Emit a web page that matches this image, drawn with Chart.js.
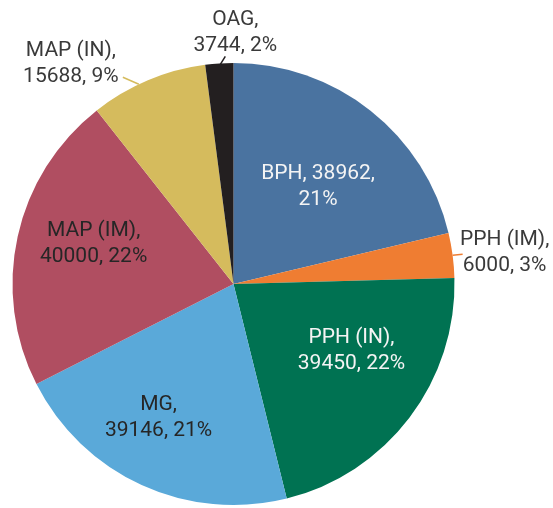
<!DOCTYPE html>
<html>
<head>
<meta charset="utf-8">
<script src="https://cdn.jsdelivr.net/npm/chart.js@4.4.0/dist/chart.umd.min.js"></script>
<style>
  body { margin: 0; background: #fff; }
  canvas { display: block; }
</style>
</head>
<body>
<canvas id="pieChart" width="553" height="508"></canvas>
<script>
// Dane wykresu
const categories = ["BPH", "PPH (IM)", "PPH (IN)", "MG", "MAP (IM)", "MAP (IN)", "OAG"];
const values = [38962, 6000, 39450, 39146, 40000, 15688, 3744];
const percents = [21, 3, 22, 21, 22, 9, 2];
const sliceColors = ["#4a73a0", "#ef7d32", "#007252", "#5aa9d9", "#b04e61", "#d5bb5d", "#231f20"];

// Ustawienia etykiet (pozycja wzgledem wycinka)
const labelSetup = [
  { inside: true, dx: 16, dy: -11, color: "#f4f4f4" },
  { inside: false, dx: 52, dy: -3, color: "#3a3a3a", lineFrom: [0, 0], lineTo: [10, -1] },
  { inside: true, dx: 30, dy: 0, color: "#f4f4f4" },
  { inside: true, dx: -29, dy: 33, color: "#262626" },
  { inside: true, dx: -32, dy: -16, color: "#262626" },
  { inside: false, dx: -77, dy: -17, color: "#3a3a3a", lineFrom: [-9, 4], lineTo: [-25, -3] },
  { inside: false, dx: 16, dy: -31, color: "#3a3a3a", lineFrom: [1, 1], lineTo: [6, -7] }
];

// Rysowanie etykiet danych
const pieLabels = {
  id: "pieLabels",
  afterDatasetsDraw(chart) {
    const ctx = chart.ctx;
    const meta = chart.getDatasetMeta(0);
    ctx.save();
    ctx.font = "21px Roboto";
    ctx.textAlign = "center";
    ctx.textBaseline = "middle";
    meta.data.forEach((arc, i) => {
      const cfg = labelSetup[i];
      const mid = (arc.startAngle + arc.endAngle) / 2;
      let x, y;
      if (cfg.inside) {
        const p = arc.tooltipPosition();
        x = p.x + cfg.dx;
        y = p.y + cfg.dy;
      } else {
        const ex = arc.x + Math.cos(mid) * arc.outerRadius;
        const ey = arc.y + Math.sin(mid) * arc.outerRadius;
        ctx.strokeStyle = sliceColors[i];
        ctx.lineWidth = 1.5;
        ctx.beginPath();
        ctx.moveTo(ex + cfg.lineFrom[0], ey + cfg.lineFrom[1]);
        ctx.lineTo(ex + cfg.lineTo[0], ey + cfg.lineTo[1]);
        ctx.stroke();
        x = ex + cfg.dx;
        y = ey + cfg.dy;
      }
      ctx.fillStyle = cfg.color;
      const line1 = categories[i] + ",";
      const line2 = values[i] + ", " + percents[i] + "%";
      if (i === 0) {
        ctx.fillText(categories[i] + ", " + values[i] + ",", x, y - 13);
        ctx.fillText(percents[i] + "%", x, y + 13);
      } else {
        ctx.fillText(line1, x, y - 13);
        ctx.fillText(line2, x, y + 13);
      }
    });
    ctx.restore();
  }
};

function initChart() {
  const ctx = document.getElementById("pieChart").getContext("2d");
  new Chart(ctx, {
    type: "pie",
    data: {
      labels: categories,
      datasets: [{ data: values, backgroundColor: sliceColors, borderWidth: 0 }]
    },
    options: {
      responsive: false,
      animation: false,
      layout: { padding: { left: 12, right: 98, top: 63, bottom: 3 } },
      plugins: { legend: { display: false }, tooltip: { enabled: false } }
    },
    plugins: [pieLabels]
  });
}

document.addEventListener("DOMContentLoaded", initChart);
</script>
</body>
</html>
